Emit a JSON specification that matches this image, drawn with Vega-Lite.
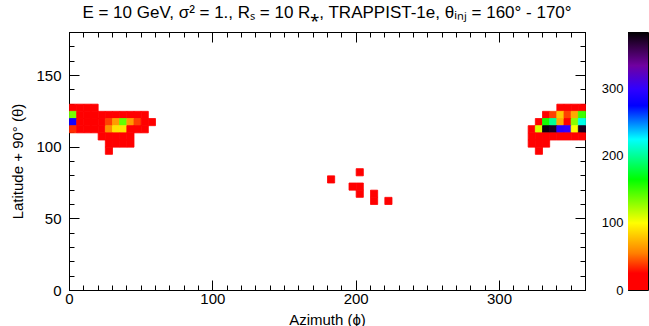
{
  "$schema": "https://vega.github.io/schema/vega-lite/v6.json",
  "padding": {"left": 10, "top": 3, "right": 0, "bottom": 0},
  "background": "white",
  "config": {
    "view": {"stroke": "black", "strokeWidth": 1},
    "axis": {
      "labelFont": "Liberation Sans", "labelFontSize": 15, "labelColor": "black",
      "titleFont": "Liberation Sans", "titleFontSize": 15, "titleFontWeight": "normal", "titleColor": "black",
      "domainColor": "black", "tickColor": "black", "grid": false, "labelFlush": false, "labelOverlap": false, "zindex": 1
    }
  },
  "hconcat": [
    {
      "width": 516,
      "height": 258,
      "title": {"text": "E = 10 GeV, σ² = 1., Rₛ = 10 R⁎, TRAPPIST-1e, θᵢₙⱼ = 160° - 170°", "font": "Liberation Sans", "fontSize": 17, "fontWeight": "normal", "color": "black", "anchor": "middle", "frame": "group", "offset": 3},
      "data": {"values": [
        {"a": 0, "l": 125, "v": 12}, {"a": 5, "l": 125, "v": 12}, {"a": 10, "l": 125, "v": 12}, {"a": 15, "l": 125, "v": 12},
        {"a": 0, "l": 120, "v": 135}, {"a": 5, "l": 120, "v": 12}, {"a": 10, "l": 120, "v": 12}, {"a": 15, "l": 120, "v": 12}, {"a": 20, "l": 120, "v": 12}, {"a": 25, "l": 120, "v": 12}, {"a": 30, "l": 120, "v": 12}, {"a": 35, "l": 120, "v": 12}, {"a": 40, "l": 120, "v": 12}, {"a": 45, "l": 120, "v": 12}, {"a": 50, "l": 120, "v": 12},
        {"a": 0, "l": 115, "v": 285}, {"a": 5, "l": 115, "v": 12}, {"a": 10, "l": 115, "v": 12}, {"a": 15, "l": 115, "v": 12}, {"a": 20, "l": 115, "v": 12}, {"a": 25, "l": 115, "v": 40}, {"a": 30, "l": 115, "v": 65}, {"a": 35, "l": 115, "v": 140}, {"a": 40, "l": 115, "v": 65}, {"a": 45, "l": 115, "v": 40}, {"a": 50, "l": 115, "v": 12}, {"a": 55, "l": 115, "v": 12},
        {"a": 0, "l": 110, "v": 35}, {"a": 5, "l": 110, "v": 12}, {"a": 10, "l": 110, "v": 12}, {"a": 15, "l": 110, "v": 12}, {"a": 20, "l": 110, "v": 12}, {"a": 25, "l": 110, "v": 60}, {"a": 30, "l": 110, "v": 90}, {"a": 35, "l": 110, "v": 90}, {"a": 40, "l": 110, "v": 25}, {"a": 45, "l": 110, "v": 12}, {"a": 50, "l": 110, "v": 12},
        {"a": 20, "l": 105, "v": 12}, {"a": 25, "l": 105, "v": 12}, {"a": 30, "l": 105, "v": 12}, {"a": 35, "l": 105, "v": 12}, {"a": 40, "l": 105, "v": 12},
        {"a": 25, "l": 100, "v": 12}, {"a": 30, "l": 100, "v": 12}, {"a": 35, "l": 100, "v": 12}, {"a": 40, "l": 100, "v": 12},
        {"a": 25, "l": 95, "v": 12},
        {"a": 180, "l": 75, "v": 12}, {"a": 200, "l": 80, "v": 12}, {"a": 195, "l": 70, "v": 12}, {"a": 200, "l": 70, "v": 12}, {"a": 200, "l": 65, "v": 12}, {"a": 210, "l": 65, "v": 12}, {"a": 210, "l": 60, "v": 12}, {"a": 220, "l": 60, "v": 12},
        {"a": 340, "l": 125, "v": 12}, {"a": 345, "l": 125, "v": 12}, {"a": 350, "l": 125, "v": 12}, {"a": 355, "l": 125, "v": 12},
        {"a": 330, "l": 120, "v": 12}, {"a": 335, "l": 120, "v": 40}, {"a": 340, "l": 120, "v": 80}, {"a": 345, "l": 120, "v": 40}, {"a": 350, "l": 120, "v": 70}, {"a": 355, "l": 120, "v": 150},
        {"a": 325, "l": 115, "v": 12}, {"a": 330, "l": 115, "v": 160}, {"a": 335, "l": 115, "v": 200}, {"a": 340, "l": 115, "v": 70}, {"a": 345, "l": 115, "v": 15}, {"a": 350, "l": 115, "v": 130}, {"a": 355, "l": 115, "v": 220},
        {"a": 320, "l": 110, "v": 12}, {"a": 325, "l": 110, "v": 110}, {"a": 330, "l": 110, "v": 380}, {"a": 335, "l": 110, "v": 375}, {"a": 340, "l": 110, "v": 295}, {"a": 345, "l": 110, "v": 300}, {"a": 350, "l": 110, "v": 100}, {"a": 355, "l": 110, "v": 375},
        {"a": 320, "l": 105, "v": 12}, {"a": 325, "l": 105, "v": 12}, {"a": 330, "l": 105, "v": 12}, {"a": 335, "l": 105, "v": 12}, {"a": 340, "l": 105, "v": 12}, {"a": 345, "l": 105, "v": 12}, {"a": 350, "l": 105, "v": 12}, {"a": 355, "l": 105, "v": 12},
        {"a": 320, "l": 100, "v": 12}, {"a": 325, "l": 100, "v": 12}, {"a": 330, "l": 100, "v": 12},
        {"a": 325, "l": 95, "v": 12}
      ]},
      "layer": [
        {
          "mark": {"type": "rect", "strokeWidth": 0.8, "binSpacing": 0},
          "encoding": {
            "x": {"field": "a", "type": "quantitative", "bin": {"extent": [0, 360], "step": 5},
              "scale": {"domain": [0, 360], "nice": false, "zero": false},
              "axis": {"orient": "bottom", "title": "Azimuth (ϕ)", "titlePadding": 1,
                "values": [0,10,20,30,40,50,60,70,80,90,100,110,120,130,140,150,160,170,180,190,200,210,220,230,240,250,260,270,280,290,300,310,320,330,340,350,360],
                "labelExpr": "datum.value % 100 === 0 ? datum.value : ''",
                "tickSize": {"condition": {"test": "datum.value % 100 === 0", "value": -10}, "value": -5},
                "labelPadding": 11}},
            "y": {"field": "l", "type": "quantitative", "bin": {"extent": [0, 180], "step": 5},
              "scale": {"domain": [0, 180], "nice": false, "zero": false},
              "axis": {"orient": "left", "title": "Latitude + 90° (θ)", "titlePadding": 10,
                "values": [0,10,20,30,40,50,60,70,80,90,100,110,120,130,140,150,160,170,180],
                "labelExpr": "datum.value % 50 === 0 ? datum.value : ''",
                "tickSize": {"condition": {"test": "datum.value % 50 === 0", "value": -10}, "value": -5},
                "labelPadding": 18}},
            "color": {"field": "v", "type": "quantitative", "legend": null,
              "scale": {"domain": [0, 25, 55, 100, 165, 225, 275, 300, 335, 365, 385],
                "range": ["#ff0000", "#ff0000", "#ff8000", "#ffff00", "#00ff00", "#00ffff", "#0000ff", "#3000ff", "#7000a0", "#300040", "#000000"],
                "interpolate": "rgb"}},
            "stroke": {"field": "v", "type": "quantitative", "legend": null,
              "scale": {"domain": [0, 25, 55, 100, 165, 225, 275, 300, 335, 365, 385],
                "range": ["#ff0000", "#ff0000", "#ff8000", "#ffff00", "#00ff00", "#00ffff", "#0000ff", "#3000ff", "#7000a0", "#300040", "#000000"],
                "interpolate": "rgb"}}
          }
        },
        {
          "mark": {"type": "rect", "opacity": 0, "binSpacing": 0},
          "encoding": {
            "x": {"field": "a", "type": "quantitative", "bin": {"extent": [0, 360], "step": 5},
              "scale": {"domain": [0, 360], "nice": false, "zero": false},
              "axis": {"orient": "top", "title": null, "labels": false,
                "values": [0,10,20,30,40,50,60,70,80,90,100,110,120,130,140,150,160,170,180,190,200,210,220,230,240,250,260,270,280,290,300,310,320,330,340,350,360],
                "tickSize": {"condition": {"test": "datum.value % 100 === 0", "value": -10}, "value": -5}}},
            "y": {"field": "l", "type": "quantitative", "bin": {"extent": [0, 180], "step": 5},
              "scale": {"domain": [0, 180], "nice": false, "zero": false},
              "axis": {"orient": "right", "title": null, "labels": false,
                "values": [0,10,20,30,40,50,60,70,80,90,100,110,120,130,140,150,160,170,180],
                "tickSize": {"condition": {"test": "datum.value % 50 === 0", "value": -10}, "value": -5}}}
          }
        }
      ],
      "resolve": {"axis": {"x": "independent", "y": "independent"}}
    },
    {
      "width": 20,
      "height": 258,
      "data": {"values": [{"lo": 0, "hi": 385}]},
      "mark": {"type": "rect", "color": {"gradient": "linear", "x1": 0, "y1": 1, "x2": 0, "y2": 0,
        "stops": [
          {"offset": 0, "color": "#ff0000"}, {"offset": 0.0649, "color": "#ff0000"}, {"offset": 0.1429, "color": "#ff8000"},
          {"offset": 0.2597, "color": "#ffff00"}, {"offset": 0.4286, "color": "#00ff00"}, {"offset": 0.5844, "color": "#00ffff"},
          {"offset": 0.7143, "color": "#0000ff"}, {"offset": 0.7792, "color": "#3000ff"}, {"offset": 0.8701, "color": "#7000a0"},
          {"offset": 0.9481, "color": "#300040"}, {"offset": 1, "color": "#000000"}]}},
      "encoding": {
        "y": {"field": "lo", "type": "quantitative", "scale": {"domain": [0, 385], "nice": false, "zero": false},
          "axis": {"orient": "left", "title": null,
            "values": [0,10,20,30,40,50,60,70,80,90,100,110,120,130,140,150,160,170,180,190,200,210,220,230,240,250,260,270,280,290,300,310,320,330,340,350,360,370,380],
            "labelExpr": "datum.value % 100 === 0 ? datum.value : ''",
            "tickSize": {"condition": {"test": "datum.value % 100 === 0", "value": -6}, "value": -3},
            "labelPadding": 11, "labelFontSize": 13}},
        "y2": {"field": "hi"}
      }
    }
  ],
  "spacing": 43,
  "bounds": "flush"
}
